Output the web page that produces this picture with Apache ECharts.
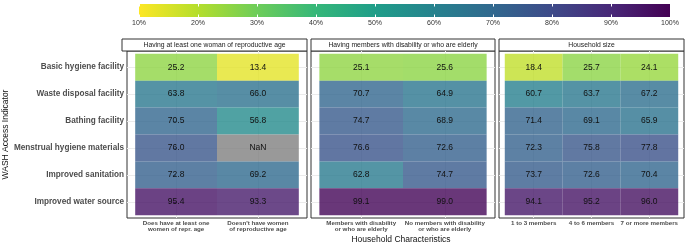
<!DOCTYPE html>
<html>
	<head>
		<meta charset="utf-8">
		<title>WASH access heatmap</title>
		<style>
			html, body {
				margin: 0;
				padding: 0;
				background: #fff;
			}
			#chart {
				width: 685px;
				height: 242px;
			}
		</style>
		<script src="https://cdn.jsdelivr.net/npm/echarts@6/dist/echarts.min.js"></script>
	</head>

	<body>
		<div id="chart"></div>
		<script>
			// rows (top to bottom)
			var indicators = ['Basic hygiene facility', 'Waste disposal facility', 'Bathing facility',
				'Menstrual hygiene materials', 'Improved sanitation', 'Improved water source'];

			// facet titles and column labels
			var panelTitles = ['Having at least one woman of reproductive age',
				'Having members with disability or who are elderly', 'Household size'];
			var womanCols = ['Does have at least one\nwomen of repr. age', "Doesn't have women\nof reproductive age"];
			var disabCols = ['Members with disability\nor who are elderly', 'No members with disability\nor who are elderly'];
			var sizeCols = ['1 to 3 members', '4 to 6 members', '7 or more members'];

			// percentages, one array per column
			var womanYes = [25.2, 63.8, 70.5, 76.0, 72.8, 95.4];
			var womanNo = [13.4, 66.0, 56.8, NaN, 69.2, 93.3];
			var disabYes = [25.1, 70.7, 74.7, 76.6, 62.8, 99.1];
			var disabNo = [25.6, 64.9, 68.9, 72.6, 74.7, 99.0];
			var size1to3 = [18.4, 60.7, 71.4, 72.3, 73.7, 94.1];
			var size4to6 = [25.7, 63.7, 69.1, 75.8, 72.6, 95.2];
			var size7plus = [24.1, 67.2, 65.9, 77.8, 70.4, 96.0];

			var legendTicks = [10, 20, 30, 40, 50, 60, 70, 80, 90, 100];

			// viridis, reversed: yellow at 10%, purple at 100%
			var viridis = ['#FDE725', '#B4DE2C', '#6DCD59', '#35B779', '#1F9E89', '#26828E', '#31688E', '#3E4A89', '#482878', '#440154'];

			var FONT = '"Liberation Sans", Arial, sans-serif';
			var panels = [
				{ cols: womanCols, data: [womanYes, womanNo], left: 122, width: 185 },
				{ cols: disabCols, data: [disabYes, disabNo], left: 311, width: 184 },
				{ cols: sizeCols, data: [size1to3, size4to6, size7plus], left: 499, width: 185 }
			];
			var gridTop = 51, gridH = 167;

			var byId = function(id) {
				return document.getElementById(id);
			};
			var idx = function(n) {
				var a = [];
				for (var i = 0; i < n; i++) a.push(i);
				return a;
			};

			var renderTile = function(params, api) {
				var x = api.value(0), y = api.value(1), v = api.value(2);
				var p0 = api.coord([x - 0.5, y - 0.5]);
				var p1 = api.coord([x + 0.5, y + 0.5]);
				var isNa = isNaN(v);
				var rx = Math.min(p0[0], p1[0]), ry = Math.min(p0[1], p1[1]);
				var w = Math.abs(p1[0] - p0[0]), h = Math.abs(p1[1] - p0[1]);
				return {
					type: 'group',
					children: [{
						type: 'rect',
						shape: { x: rx, y: ry, width: w, height: h },
						style: { fill: isNa ? '#7f7f7f' : api.visual('color'), opacity: 0.8 }
					}, {
						type: 'text',
						style: {
							text: isNa ? 'NaN' : v.toFixed(1),
							x: rx + w / 2, y: ry + h / 2,
							align: 'center', verticalAlign: 'middle',
							font: '8.5px ' + FONT, fill: '#111'
						}
					}]
				};
			};

			var grids = [], xAxes = [], yAxes = [], series = [], graphics = [];
			panels.forEach(function(p, i) {
				var n = p.cols.length;
				grids.push({
					left: p.left, top: gridTop, width: p.width, height: gridH,
					show: true, borderColor: '#333', borderWidth: 1, backgroundColor: 'transparent'
				});
				xAxes.push({
					type: 'value', gridIndex: i, min: -0.6, max: n - 0.4,
					axisLine: { show: false },
					axisTick: { show: true, customValues: idx(n), length: 3, lineStyle: { color: '#333' } },
					axisLabel: {
						customValues: idx(n), fontSize: 6.2, fontWeight: 'bold', color: '#4d4d4d',
						fontFamily: FONT, lineHeight: 6.8, margin: 1.5,
						formatter: function(v) { return p.cols[Math.round(v)]; }
					},
					splitLine: { show: true, lineStyle: { color: '#ebebeb' } }
				});
				yAxes.push({
					type: 'value', gridIndex: i, inverse: true, min: -0.6, max: indicators.length - 0.4,
					axisLine: { show: false },
					axisTick: { show: i === 0, customValues: idx(indicators.length), length: 3, lineStyle: { color: '#333' } },
					axisLabel: {
						show: i === 0, customValues: idx(indicators.length), fontSize: 8.2, fontWeight: 'bold',
						color: '#4d4d4d', fontFamily: FONT, margin: 3,
						formatter: function(v) { return indicators[Math.round(v)]; }
					},
					splitLine: { show: true, lineStyle: { color: '#ebebeb' } },
					name: i === 0 ? 'WASH Access Indicator' : '',
					nameLocation: 'middle', nameRotate: 90, nameGap: 116,
					nameTextStyle: { fontSize: 8.5, color: '#111', fontFamily: FONT }
				});
				var d = [];
				p.data.forEach(function(col, c) {
					col.forEach(function(v, r) {
						d.push([c, r, v]);
					});
				});
				series.push({
					type: 'custom', xAxisIndex: i, yAxisIndex: i,
					renderItem: renderTile, data: d, silent: true
				});
				// facet strip
				graphics.push({
					type: 'rect',
					shape: { x: p.left, y: 39, width: p.width, height: 12 },
					style: { fill: '#fff', stroke: '#333', lineWidth: 1 }
				});
				graphics.push({
					type: 'text',
					x: p.left + p.width / 2, y: 45.5,
					style: {
						text: panelTitles[i], align: 'center', verticalAlign: 'middle',
						font: '6.8px ' + FONT, fill: '#1a1a1a'
					}
				});
			});

			graphics.push({
				type: 'text',
				x: 401, y: 240,
				style: {
					text: 'Household Characteristics', align: 'center', verticalAlign: 'middle',
					font: '8.5px ' + FONT, fill: '#111'
				}
			});

			// colour bar
			grids.push({ left: 139, top: 4, width: 531, height: 13 });
			xAxes.push({
				type: 'value', gridIndex: 3, min: 10, max: 100, interval: 10, z: 5,
				axisLine: { show: false },
				axisTick: { show: true, inside: true, length: 2.5, lineStyle: { color: '#fff' } },
				axisLabel: { fontSize: 7, color: '#333', fontFamily: FONT, margin: 3, formatter: '{value}%' },
				splitLine: { show: false }
			});
			xAxes.push({
				type: 'value', gridIndex: 3, position: 'top', min: 10, max: 100, interval: 10, z: 5,
				axisLine: { show: false },
				axisTick: { show: true, inside: true, length: 2.5, lineStyle: { color: '#fff' } },
				axisLabel: { show: false },
				splitLine: { show: false }
			});
			yAxes.push({ type: 'value', gridIndex: 3, min: 0, max: 1, show: false });
			series.push({
				type: 'custom', xAxisIndex: 3, yAxisIndex: 3, silent: true,
				data: [[legendTicks[0], legendTicks[legendTicks.length - 1]]],
				renderItem: function(params, api) {
					var a = api.coord([api.value(0), 1]);
					var b = api.coord([api.value(1), 0]);
					var stops = viridis.map(function(c, k) {
						return { offset: k / (viridis.length - 1), color: c };
					});
					return {
						type: 'rect',
						shape: { x: a[0], y: a[1], width: b[0] - a[0], height: b[1] - a[1] },
						style: { fill: new echarts.graphic.LinearGradient(0, 0, 1, 0, stops) }
					};
				}
			});

			var chart = echarts.init(byId('chart'), null, { renderer: 'canvas' });
			chart.setOption({
				animation: false,
				backgroundColor: '#fff',
				grid: grids,
				xAxis: xAxes,
				yAxis: yAxes,
				visualMap: {
					type: 'continuous', show: false, min: 10, max: 100, dimension: 2,
					seriesIndex: [0, 1, 2],
					inRange: { color: viridis }
				},
				graphic: graphics,
				series: series
			});
		</script>
	</body>
</html>
